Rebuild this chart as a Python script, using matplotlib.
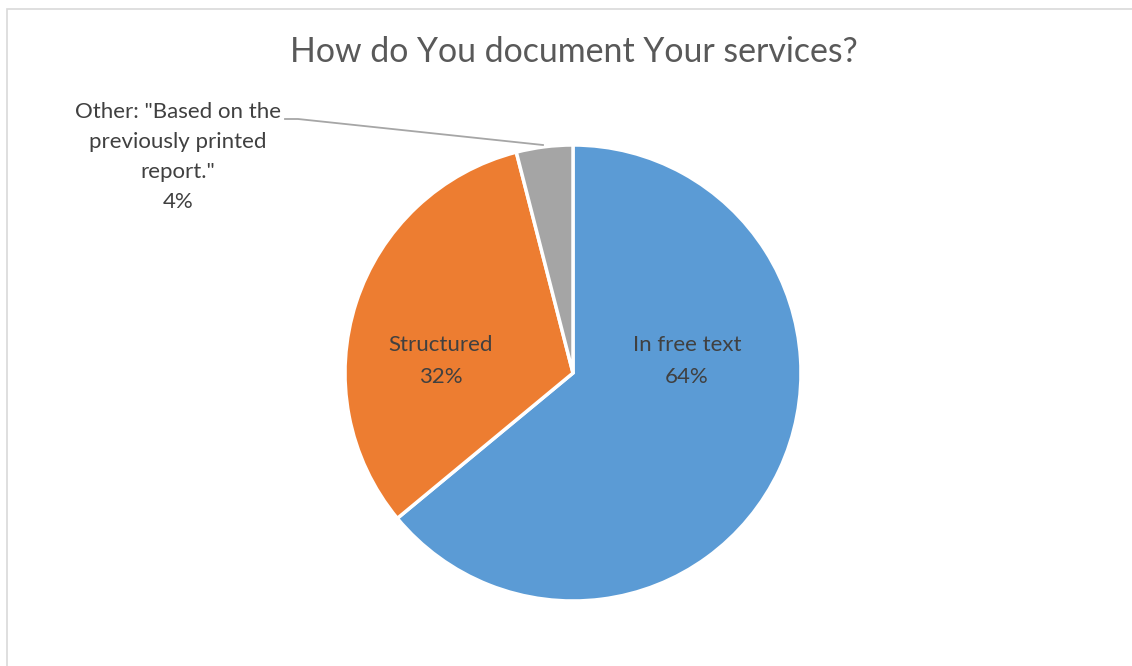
import matplotlib
matplotlib.use("Agg")
import matplotlib.pyplot as plt
from matplotlib.patches import Rectangle

title = "How do You document Your services?"
labels = ["In free text", "Structured", 'Other: "Based on the\npreviously printed\nreport."']
values = [64, 32, 4]
colors = ["#5B9BD5", "#ED7D31", "#A5A5A5"]

W, H = 1132, 666
fig = plt.figure(figsize=(W / 100, H / 100), dpi=100)
ax = fig.add_axes([0, 0, 1, 1])

plt.rcParams["font.family"] = ["Lato", "DejaVu Sans"]
tc = "#404040"

cx, cy, r = 573, H - 373, 228
wedges, _ = ax.pie(values, colors=colors, startangle=90, counterclock=False,
                   center=(cx, cy), radius=r, frame=True,
                   wedgeprops=dict(edgecolor="white", linewidth=2.5))
ax.set_xlim(0, W)
ax.set_ylim(0, H)
ax.set_aspect("equal")
ax.axis("off")

# chart border
ax.add_patch(Rectangle((6.5, -20), W + 40, H - 8.5 + 20, fill=False,
                       edgecolor="#D9D9D9", linewidth=1.2))

ax.text(W / 2 + 8, H - 52, title, ha="center", va="center", fontsize=24.4, color="#595959")

fs = 16
pct = [f"{v}%" for v in values]
ax.text(687, H - 361, f"{labels[0]}\n{pct[0]}", ha="center", va="center",
        fontsize=fs, color=tc, linespacing=1.7)
ax.text(441, H - 361, f"{labels[1]}\n{pct[1]}", ha="center", va="center",
        fontsize=fs, color=tc, linespacing=1.7)
ax.text(178, H - 157, f"{labels[2]}\n{pct[2]}", ha="center", va="center",
        fontsize=fs, color=tc, linespacing=1.63)

# leader line
ax.plot([285, 298, 543], [H - 119, H - 119, H - 145], color="#A6A6A6", linewidth=1.3)

fig.savefig("out.png", dpi=100, facecolor="white")
